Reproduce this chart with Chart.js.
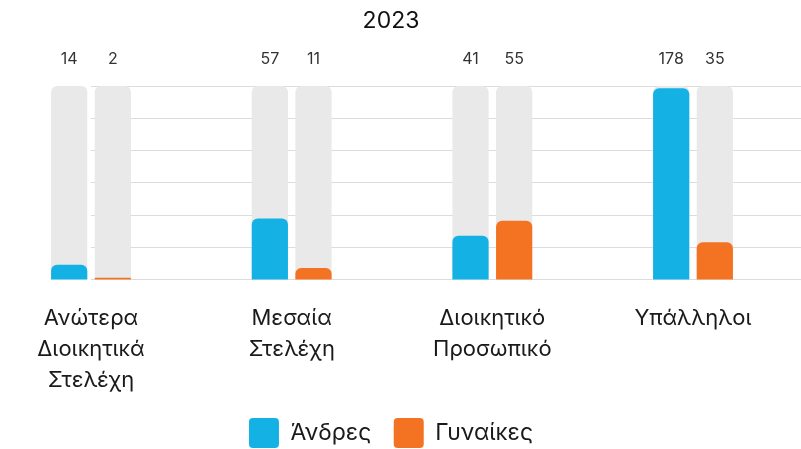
<!DOCTYPE html>
<html lang="el">
<head>
  <meta charset="UTF-8" />
  <title>2023</title>
  <script src="https://cdn.jsdelivr.net/npm/chart.js"></script>
  <style>
    html, body {
      margin: 0;
      padding: 0;
      background: #ffffff;
      overflow: hidden;
    }
    #wrap {
      position: relative;
      width: 801px;
      height: 449px;
      overflow: hidden;
    }
    #chart {
      position: absolute;
      left: -19px;
      top: 0;
    }
  </style>
</head>
<body>
  <div id="wrap">
    <canvas id="chart" width="820" height="458"></canvas>
  </div>

  <script>
    const chartTitle = '2023';
    const categories = [
      ['Ανώτερα', 'Διοικητικά', 'Στελέχη'],
      ['Μεσαία', 'Στελέχη'],
      ['Διοικητικό', 'Προσωπικό'],
      ['Υπάλληλοι']
    ];
    const seriesNames = ['Άνδρες', 'Γυναίκες'];
    const men = [14, 57, 41, 178];
    const women = [2, 11, 55, 35];
    const axisMax = 180;
    const axisStep = 30;

    const blue = '#14b1e5';
    const orange = '#f37323';
    const track = '#e9e9e9';
    const font = 'Inter, "Noto Sans", sans-serif';

    // grey full-height bars behind each real bar
    const trackValues = categories.map(() => axisMax);

    // value numbers above the tracks
    const valueLabels = {
      id: 'valueLabels',
      afterDatasetsDraw(chart) {
        const ctx = chart.ctx;
        const top = chart.chartArea.top;
        ctx.save();
        ctx.font = '16px ' + font;
        ctx.fillStyle = '#333';
        ctx.textAlign = 'center';
        ctx.textBaseline = 'middle';
        [0, 1].forEach(di => {
          const meta = chart.getDatasetMeta(di);
          const values = chart.data.datasets[di].data;
          meta.data.forEach((bar, i) => {
            ctx.fillText(String(values[i]), bar.x, top - 27);
          });
        });
        ctx.restore();
      }
    };

    const ctx = document.getElementById('chart').getContext('2d');
    new Chart(ctx, {
      type: 'bar',
      data: {
        labels: categories,
        datasets: [
          { label: seriesNames[0], data: men, stack: 'm', yAxisID: 'y', backgroundColor: blue },
          { label: seriesNames[1], data: women, stack: 'w', yAxisID: 'y', backgroundColor: orange },
          { label: 'track-m', data: trackValues, stack: 'm', yAxisID: 'y', backgroundColor: track },
          { label: 'track-w', data: trackValues, stack: 'w', yAxisID: 'y', backgroundColor: track }
        ]
      },
      plugins: [valueLabels],
      options: {
        responsive: false,
        animation: false,
        devicePixelRatio: 1,
        clip: false,
        categoryPercentage: 0.435,
        barPercentage: 0.83,
        borderRadius: 6,
        borderSkipped: 'start',
        scales: {
          x: {
            offset: false,
            grid: { display: false, drawTicks: true, tickLength: 22.5 },
            border: { display: false },
            ticks: {
              padding: 0,
              maxRotation: 0,
              autoSkip: false,
              color: '#1a1a1a',
              font: { family: font, size: 22, lineHeight: 1.41 }
            }
          },
          y: {
            position: 'right',
            stacked: false,
            min: 0,
            max: axisMax,
            border: { display: false },
            grid: {
              color: '#dcdcdc',
              lineWidth: 1,
              drawTicks: true,
              tickLength: 108
            },
            ticks: { display: false, stepSize: axisStep }
          },
          // empty left axis, only holds the chart area away from the edge
          spacer: {
            type: 'linear',
            axis: 'y',
            position: 'left',
            grid: { display: false, drawTicks: true, tickLength: 110 },
            border: { display: false },
            ticks: { display: false }
          }
        },
        plugins: {
          title: {
            display: true,
            text: chartTitle,
            color: '#111',
            font: { family: font, size: 23, weight: 'normal' },
            padding: { top: 7, bottom: 51.4 }
          },
          legend: {
            position: 'bottom',
            labels: {
              filter: item => item.datasetIndex < 2,
              boxWidth: 30,
              boxHeight: 30,
              useBorderRadius: true,
              borderRadius: 4,
              padding: 22.5,
              color: '#1a1a1a',
              font: { family: font, size: 23 }
            }
          },
          tooltip: { enabled: false }
        }
      }
    });
  </script>
</body>
</html>
